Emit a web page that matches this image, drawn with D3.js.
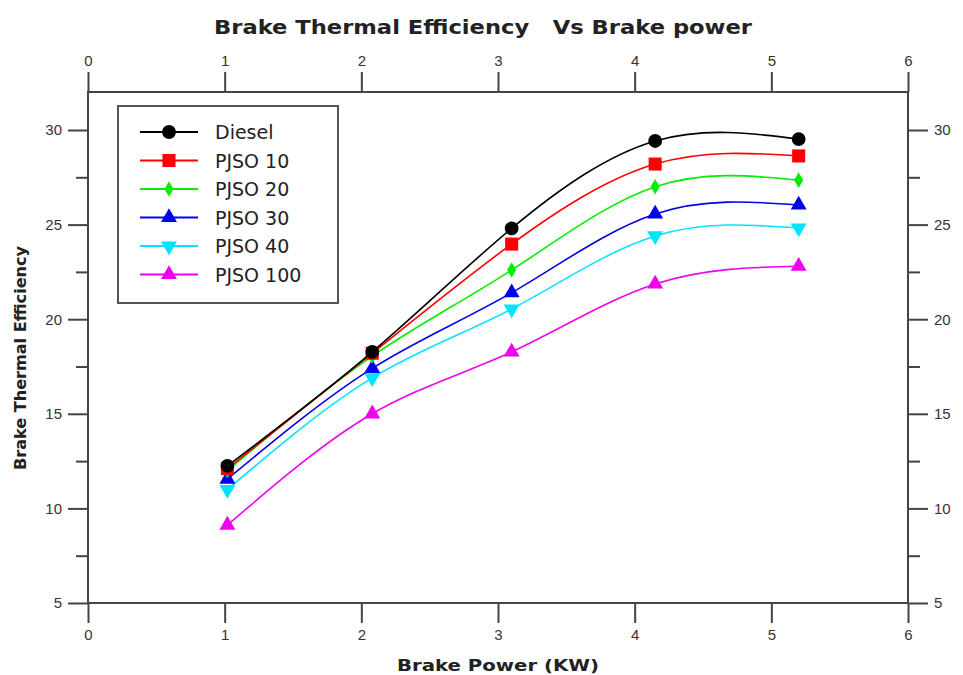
<!DOCTYPE html>
<html>
<head>
<meta charset="utf-8">
<script src="https://cdn.jsdelivr.net/npm/d3@7"></script>
<style>
  body { margin: 0; background: #fff; }
  svg { font-family: "DejaVu Sans", Verdana, sans-serif; }
</style>
</head>
<body>
<svg id="chart" width="963" height="675"></svg>
<script>
/* data */
let power = [1.02, 2.08, 3.1, 4.15, 5.2];
let names = ["Diesel", "PJSO 10", "PJSO 20", "PJSO 30", "PJSO 40", "PJSO 100"];
let diesel  = [12.25, 18.27, 24.8, 29.42, 29.52];
let pjso10  = [12.1, 18.2, 23.97, 28.2, 28.63];
let pjso20  = [12.0, 18.05, 22.6, 27.0, 27.35];
let pjso30  = [11.55, 17.4, 21.4, 25.56, 26.04];
let pjso40  = [11.0, 16.9, 20.54, 24.4, 24.82];
let pjso100 = [9.12, 15.0, 18.27, 21.86, 22.8];
let xTicks = [0, 1, 2, 3, 4, 5, 6];
let yTicks = [5, 10, 15, 20, 25, 30];
let yMinor = [7.5, 12.5, 17.5, 22.5, 27.5];

let colors = ["#000000", "#ff0000", "#00ee00", "#0000ee", "#00e5ff", "#ee00ee"];
let symbols = [d3.symbolCircle, d3.symbolSquare, d3.symbolDiamond, d3.symbolTriangle, "down", d3.symbolTriangle];
let sizes = [150, 170, 70, 110, 110, 110];

let series = [diesel, pjso10, pjso20, pjso30, pjso40, pjso100].map(function(v, k) {
    return { name: names[k], color: colors[k], sym: symbols[k], size: sizes[k],
             pts: v.map(function(y, i) { return { x: power[i], y: y }; }) };
});

let L = 88, R = 908, T = 92, B = 603;
let svg = d3.select("#chart");

let x = d3.scaleLinear().domain([0, 6]).range([L, R]);
let y = d3.scaleLinear().domain([5, 30]).range([B, 130]);

let axisColor = "#444";
let labColor = "#333";
let fmt = d3.format("d");

function styleAxis(g) {
    g.select(".domain").remove();
    g.selectAll("line").attr("stroke", axisColor).attr("stroke-width", 2);
    g.selectAll("text").attr("fill", labColor).attr("font-size", 15);
}

// frame
svg.append("rect").attr("x", L).attr("y", T).attr("width", R - L).attr("height", B - T)
   .attr("fill", "none").attr("stroke", axisColor).attr("stroke-width", 2);

svg.append("g").attr("transform", "translate(0," + B + ")")
   .call(d3.axisBottom(x).tickValues(xTicks).tickFormat(fmt).tickSize(20).tickPadding(6)).call(styleAxis);
svg.append("g").attr("transform", "translate(0," + T + ")")
   .call(d3.axisTop(x).tickValues(xTicks).tickFormat(fmt).tickSize(20).tickPadding(6)).call(styleAxis);
svg.append("g").attr("transform", "translate(" + L + ",0)")
   .call(d3.axisLeft(y).tickValues(yTicks).tickSize(20).tickPadding(6)).call(styleAxis);
svg.append("g").attr("transform", "translate(" + R + ",0)")
   .call(d3.axisRight(y).tickValues(yTicks).tickSize(20).tickPadding(6)).call(styleAxis);
svg.append("g").attr("transform", "translate(" + L + ",0)")
   .call(d3.axisLeft(y).tickValues(yMinor).tickSize(12).tickFormat("")).call(styleAxis);
svg.append("g").attr("transform", "translate(" + R + ",0)")
   .call(d3.axisRight(y).tickValues(yMinor).tickSize(12).tickFormat("")).call(styleAxis);

// titles
svg.append("text").attr("x", 483).attr("y", 34).attr("text-anchor", "middle")
   .attr("font-size", 19).attr("font-weight", "bold").attr("fill", "#222")
   .attr("xml:space", "preserve")
   .attr("textLength", 538).attr("lengthAdjust", "spacingAndGlyphs")
   .text("Brake Thermal Efficiency   Vs Brake power");
svg.append("text").attr("x", 498).attr("y", 671).attr("text-anchor", "middle")
   .attr("font-size", 16).attr("font-weight", "bold").attr("fill", "#222")
   .attr("textLength", 202).attr("lengthAdjust", "spacingAndGlyphs")
   .text("Brake Power (KW)");
svg.append("text").attr("transform", "translate(26,358) rotate(-90)").attr("text-anchor", "middle")
   .attr("font-size", 16).attr("font-weight", "bold").attr("fill", "#222")
   .attr("textLength", 224).attr("lengthAdjust", "spacingAndGlyphs")
   .text("Brake Thermal Efficiency");

let line = d3.line().x(function(d) { return x(d.x); }).y(function(d) { return y(d.y); })
    .curve(d3.curveNatural);

function marker(sel, s) {
    if (s.sym === "down") {
        sel.attr("d", d3.symbol().type(d3.symbolTriangle).size(s.size))
           .attr("transform", function(d) { return "translate(" + x(d.x) + "," + y(d.y) + ") rotate(180)"; });
    } else {
        sel.attr("d", d3.symbol().type(s.sym).size(s.size))
           .attr("transform", function(d) { return "translate(" + x(d.x) + "," + y(d.y) + ")"; });
    }
}

let gs = svg.selectAll("g.series").data(series.slice().reverse()).enter().append("g").attr("class", "series");
gs.append("path").attr("d", function(d) { return line(d.pts); })
  .attr("fill", "none").attr("stroke", function(d) { return d.color; }).attr("stroke-width", 1.6);
gs.each(function(s) {
    d3.select(this).selectAll("path.pt").data(s.pts).enter().append("path").attr("class", "pt")
      .attr("fill", s.color).call(marker, s);
});

// legend
let lg = svg.append("g");
lg.append("rect").attr("x", 118).attr("y", 106).attr("width", 220).attr("height", 197)
  .attr("fill", "#fff").attr("stroke", "#555").attr("stroke-width", 2);
series.forEach(function(s, k) {
    let yy = 132 + k * 28.5;
    lg.append("line").attr("x1", 140).attr("x2", 198).attr("y1", yy).attr("y2", yy)
      .attr("stroke", s.color).attr("stroke-width", 2);
    let p = lg.append("path").attr("fill", s.color);
    if (s.sym === "down") {
        p.attr("d", d3.symbol().type(d3.symbolTriangle).size(s.size)).attr("transform", "translate(169," + yy + ") rotate(180)");
    } else {
        p.attr("d", d3.symbol().type(s.sym).size(s.size)).attr("transform", "translate(169," + yy + ")");
    }
    lg.append("text").attr("x", 215).attr("y", yy + 7).attr("font-size", 19).attr("fill", "#222").text(s.name);
});
</script>
</body>
</html>
